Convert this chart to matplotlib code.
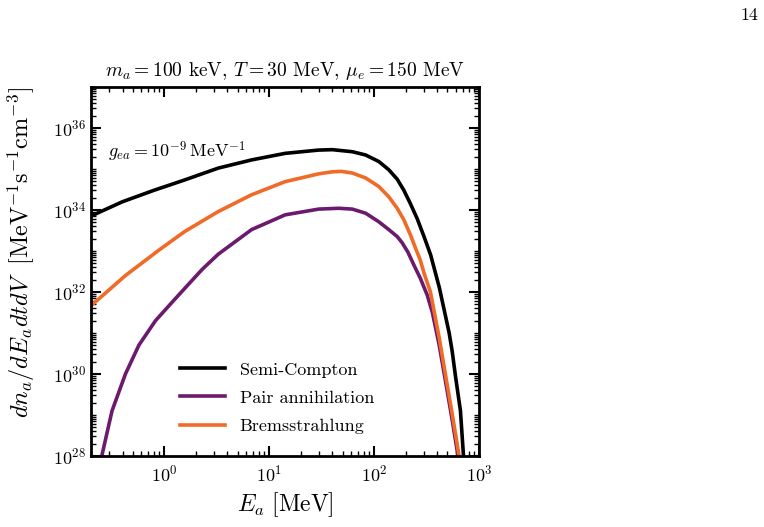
import numpy as np
import matplotlib
matplotlib.use("Agg")
import matplotlib.pyplot as plt
from matplotlib.ticker import LogLocator, NullFormatter

plt.rcParams["font.family"] = "serif"
plt.rcParams["font.serif"] = ["cmr10", "DejaVu Serif"]
plt.rcParams["mathtext.fontset"] = "cm"
plt.rcParams["axes.formatter.use_mathtext"] = True
plt.rcParams["axes.unicode_minus"] = False

# energies in MeV, rates as log10 values
E_compton = [0.2, 0.4, 0.8, 1.56, 3.27, 6.8, 14.2, 29.6, 40, 62, 83, 111, 138, 166,
             192, 222, 258, 299, 346, 419, 519, 555, 596, 665, 711]
logn_compton = [33.85, 34.20, 34.48, 34.73, 35.02, 35.22, 35.38, 35.46, 35.47, 35.42, 35.34,
                35.18, 34.98, 34.75, 34.48, 34.15, 33.78, 33.35, 32.90, 32.1, 31.0, 30.55,
                29.95, 29.1, 28.0]

E_pair = [0.254, 0.318, 0.427, 0.573, 0.826, 1.19, 1.56, 2.3, 3.27, 6.8, 14.2, 29.6, 46,
          62, 83, 111, 138, 166, 185, 210, 240, 276, 321, 359, 416, 500, 557, 640]
logn_pair = [28.0, 29.1, 30.0, 30.7, 31.3, 31.75, 32.08, 32.55, 32.92, 33.52, 33.88, 34.02,
             34.04, 34.02, 33.92, 33.71, 33.52, 33.35, 33.2, 32.97, 32.65, 32.33, 31.92, 31.5,
             30.72, 29.55, 28.85, 27.9]

E_brems = [0.2, 0.427, 0.89, 1.56, 3.27, 6.8, 14.2, 29.6, 40, 49, 62, 83, 111, 138, 166,
           192, 222, 248, 275, 299, 344, 416, 500, 557, 650]
logn_brems = [31.66, 32.40, 33.02, 33.47, 33.96, 34.37, 34.69, 34.88, 34.93, 34.94, 34.90,
              34.78, 34.57, 34.32, 34.04, 33.76, 33.39, 33.07, 32.78, 32.46, 32.0, 30.9, 29.7,
              29.0, 27.95]

fig = plt.figure(figsize=(7.64, 5.27), dpi=100)
ax = fig.add_axes([0.119, 0.135, 0.508, 0.700])

lw = 2.6
ax.plot(E_compton, 10.0**np.array(logn_compton), color="black", lw=lw,
        solid_joinstyle="round", label="Semi-Compton")
ax.plot(E_pair, 10.0**np.array(logn_pair), color="#6b1a6e", lw=lw,
        solid_joinstyle="round", label="Pair annihilation")
ax.plot(E_brems, 10.0**np.array(logn_brems), color="#f06a28", lw=lw,
        solid_joinstyle="round", label="Bremsstrahlung")

ax.set_xscale("log")
ax.set_yscale("log")
ax.set_xlim(0.2, 1000)
ax.set_ylim(1e28, 1e37)
ax.set_yticks([1e28, 1e30, 1e32, 1e34, 1e36])
ax.yaxis.set_minor_locator(LogLocator(base=10, subs=np.arange(1, 10), numticks=100))
ax.yaxis.set_minor_formatter(NullFormatter())
ax.xaxis.set_minor_locator(LogLocator(base=10, subs=np.arange(2, 10), numticks=100))
ax.xaxis.set_minor_formatter(NullFormatter())

ax.tick_params(which="both", direction="in", top=True, right=True, labelsize=13)
ax.tick_params(which="major", length=7, width=1.5)
ax.tick_params(which="minor", length=3.5, width=1.0)
ax.tick_params(axis="x", pad=6)
for s in ax.spines.values():
    s.set_linewidth(2)

ax.set_xlabel(r"$E_a\ [\mathrm{MeV}]$", fontsize=17)
ax.set_ylabel(r"$dn_a/dE_a dt dV\ \ [\mathrm{MeV}^{-1}\mathrm{s}^{-1}\mathrm{cm}^{-3}]$", fontsize=17.5)
ax.yaxis.set_label_coords(-0.14, 0.55)
ax.set_title(r"$m_a = 100$ keV, $T = 30$ MeV, $\mu_e = 150$ MeV", fontsize=14, pad=8)

ax.text(0.044, 0.824, r"$g_{ea} = 10^{-9}\,\mathrm{MeV}^{-1}$", transform=ax.transAxes,
        fontsize=13, va="center")

ax.legend(loc="lower center", bbox_to_anchor=(0.48, 0.015), frameon=False, fontsize=13,
          handlelength=2.5, labelspacing=0.7)

fig.text(0.992, 0.985, "14", fontsize=13, ha="right", va="top")

fig.savefig("out.png", dpi=100)
